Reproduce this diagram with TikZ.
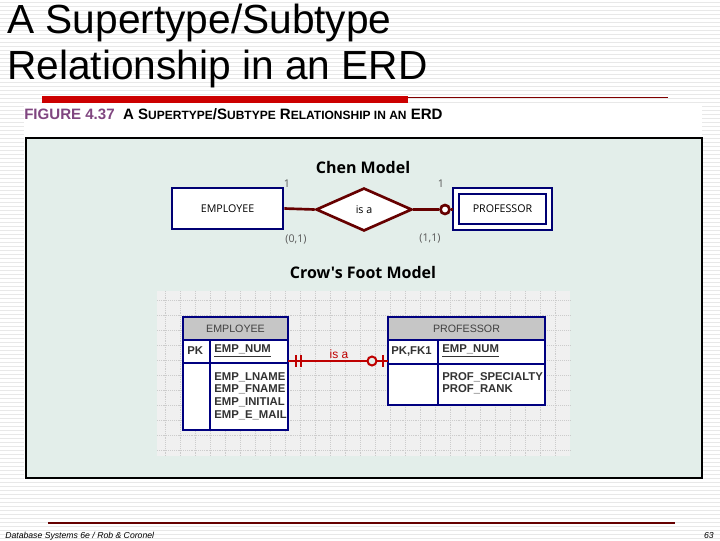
\documentclass[tikz,border=0pt]{standalone}
\usepackage{fontspec}
\usetikzlibrary{shapes.geometric}
\setmainfont{Liberation Sans}
\newfontfamily\chen{Open Sans}
\begin{document}
\begin{tikzpicture}[x=0.75pt,y=-0.75pt,
  ent/.style={draw=blue!45!black,line width=2pt,fill=white},
  rel/.style={draw=red!40!black,line width=2pt},
  tb/.style={draw=blue!50!black,line width=1pt},
  lbl/.style={font=\chen\fontsize{8}{9}\selectfont,text=gray!70!black},
  cf/.style={font=\fontsize{8.5}{9.5}\selectfont\bfseries,text=black!80,anchor=west,inner sep=0pt,align=left}]
\useasboundingbox (0,0) rectangle (720,540);
\fill[white] (0,0) rectangle (720,540);
\foreach \y in {2,6,...,538} \draw[gray!18,line width=0.6pt] (0,\y) -- (720,\y);
% title
\node[anchor=north west,align=left,inner sep=0pt,font=\fontsize{30.5}{34}\selectfont] (title) at (7,4) {A Supertype/Subtype\\Relationship in an ERD};
\fill[red!80!black] (42,96) rectangle (408,103);
\draw[red!50!black,line width=0.6pt] (408,97) -- (668,97);
% figure panel
\fill[white] (24,103) rectangle (702,480);
\node[anchor=west,inner sep=0pt,font=\fontsize{11.3}{13}\selectfont\bfseries] (cap) at (24,114) {\textcolor{violet!45!gray}{FIGURE 4.37}\ \ A S{\fontsize{9}{11}\selectfont UPERTYPE}/S{\fontsize{9}{11}\selectfont UBTYPE} R{\fontsize{9}{11}\selectfont ELATIONSHIP IN AN} ERD};
\draw[black,line width=1.5pt,fill={rgb,255:red,227;green,238;blue,234}] (26,138) rectangle (702,478);
% Chen model
\node[font=\chen\fontsize{12}{14}\selectfont\bfseries] (chent) at (363,167) {Chen Model};
\node[ent,minimum width=111pt*0.75,minimum height=41pt*0.75,font=\chen\fontsize{8}{9}\selectfont] (emp) at (227.5,208.5) {EMPLOYEE};
\draw[ent] (453,188) rectangle (552,230);
\node[draw=blue!45!black,line width=1.2pt,fill=white,minimum width=87pt*0.75,minimum height=30pt*0.75,font=\chen\fontsize{8}{9}\selectfont] (prof) at (502.5,209) {PROFESSOR};
\node[rel,fill=white,diamond,aspect=2.2,minimum width=96pt*0.75,minimum height=43pt*0.75,inner sep=0pt,font=\chen\fontsize{8}{9}\selectfont] (isa) at (364,209.5) {is a};
\draw[rel] (emp.east) -- (isa.west);
\node[draw=red!40!black,line width=2pt,circle,fill=white,minimum size=9pt*0.75,inner sep=0pt] (circ) at (445,209.5) {};
\draw[rel] (isa.east) -- (circ.west);
\draw[rel] (circ.east) -- (453,209.5);
\node[lbl] (l1) at (287,184) {1};
\node[lbl] (l2) at (441,184) {1};
\node[lbl] (l3) at (296,239) {(0,1)};
\node[lbl] (l4) at (430,239) {(1,1)};
% Crow's foot
\node[font=\chen\fontsize{12}{14}\selectfont\bfseries] (cft) at (363,272) {Crow's Foot Model};
\fill[gray!12] (157,291) rectangle (570,456);
\foreach \x in {165,180,...,565} \draw[gray!40,densely dotted,line width=0.4pt] (\x,291) -- (\x,456);
\foreach \y in {300,315,...,455} \draw[gray!40,densely dotted,line width=0.4pt] (157,\y) -- (570,\y);
% employee table
\fill[white] (183,317) rectangle (288,430);
\fill[gray!45] (183,317) rectangle (288,340);
\draw[tb] (183,317) rectangle (288,430);
\draw[tb] (183,340) -- (288,340) (183,363) -- (288,363) (210,340) -- (210,430);
\node[font=\fontsize{8}{9}\selectfont,text=black!75] (eh) at (235.5,328.5) {EMPLOYEE};
\node[cf] (epk) at (187,351) {PK};
\node[cf] (enum) at (214,351) {\underline{EMP\_NUM}};
\node[cf,anchor=north west] (eat) at (214,372) {EMP\_LNAME\\EMP\_FNAME\\EMP\_INITIAL\\EMP\_E\_MAIL};
% professor table
\fill[white] (388,317) rectangle (545,405);
\fill[gray!45] (388,317) rectangle (545,340);
\draw[tb] (388,317) rectangle (545,405);
\draw[tb] (388,340) -- (545,340) (388,364) -- (545,364) (438,340) -- (438,405);
\node[font=\fontsize{8}{9}\selectfont,text=black!75] (ph) at (466.5,328.5) {PROFESSOR};
\node[cf] (ppk) at (391,351) {PK,FK1};
\node[cf] (pnum) at (442,351) {\underline{EMP\_NUM}};
\node[cf,anchor=north west] (pat) at (442,372) {PROF\_SPECIALTY\\PROF\_RANK};
% connector
\coordinate (ca) at (288,361);
\coordinate (cb) at (388,361);
\draw[red!75!black,line width=1.5pt] (ca) -- (cb);
\draw[red!75!black,line width=1.5pt] (296,355) -- (296,367) (301,355) -- (301,367) (383,355) -- (383,367);
\node[draw=red!75!black,line width=1.5pt,circle,fill={rgb,255:red,227;green,238;blue,234},minimum size=9pt*0.75,inner sep=0pt] (cc) at (372,361) {};
\node[font=\fontsize{9}{10}\selectfont,text=red!75!black,inner sep=0pt] (isat) at (339,354) {is a};
% footer
\draw[red!40!black,line width=0.8pt] (48,523) -- (675,523);
\node[anchor=west,inner sep=0pt,font=\fontsize{6.5}{7}\selectfont\itshape] (ft) at (5,536) {Database Systems 6e / Rob \& Coronel};
\node[anchor=east,inner sep=0pt,font=\fontsize{6.5}{7}\selectfont\itshape] (pg) at (714,536) {63};
\end{tikzpicture}
\end{document}
